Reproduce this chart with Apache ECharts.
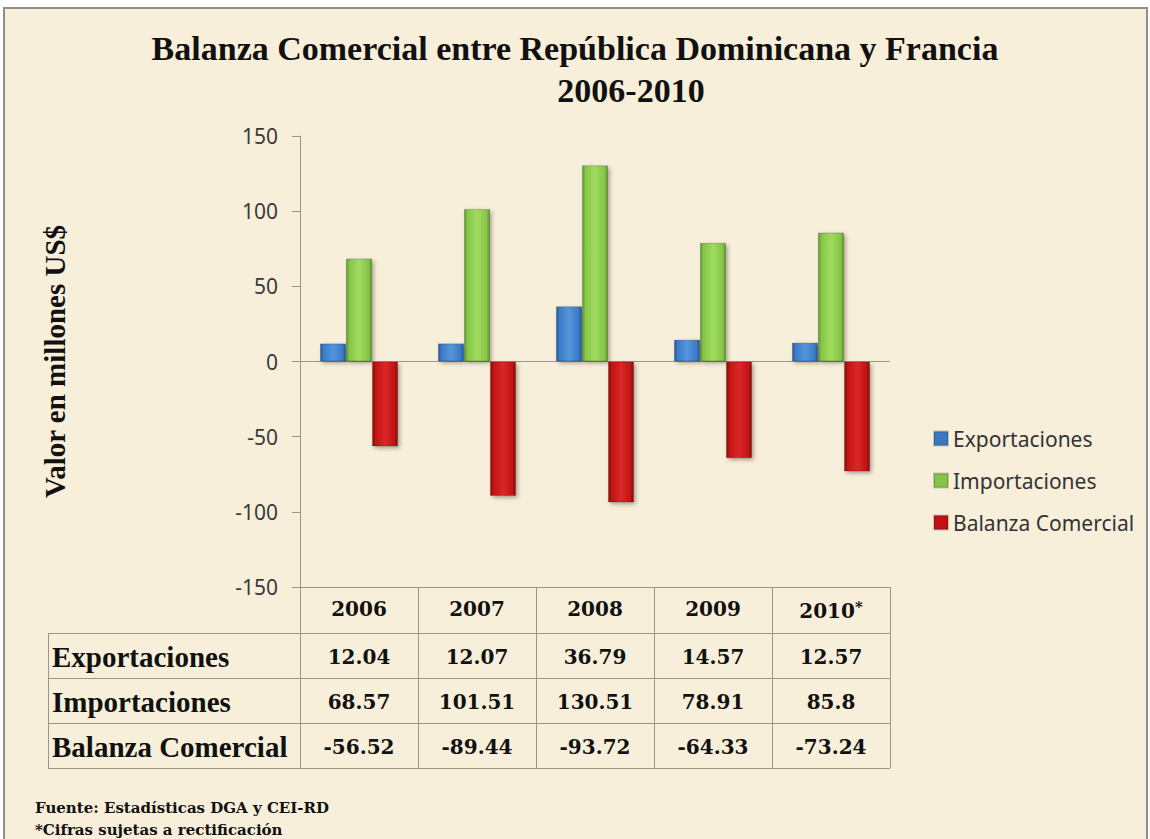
<!DOCTYPE html>
<html>
<head>
<meta charset="utf-8">
<script src="https://cdn.jsdelivr.net/npm/echarts@6/dist/echarts.min.js"></script>
<style>
  html, body { margin: 0; padding: 0; background: #fff; }
  #main { width: 1150px; height: 839px; }
</style>
</head>
<body>
<div id="main"></div>
<script>
// data
const years = ['2006', '2007', '2008', '2009', '2010*'];
const exportaciones = [12.04, 12.07, 36.79, 14.57, 12.57];
const importaciones = [68.57, 101.51, 130.51, 78.91, 85.8];
const balanza = [-56.52, -89.44, -93.72, -64.33, -73.24];
const seriesNames = ['Exportaciones', 'Importaciones', 'Balanza Comercial'];
const yMin = -150, yMax = 150, yStep = 50;

const serif = '"Liberation Serif", "DejaVu Serif", serif';
const numFont = '"DejaVu Serif", serif';
const sans = '"Noto Sans", "Open Sans", sans-serif';
const paper = '#f8efda';
const lineColor = '#9a968c';

// shaded bar fill to look like the bevelled office bars
const bevel = (dark, mid, light) => ({
  type: 'linear', x: 0, y: 0, x2: 1, y2: 0,
  colorStops: [
    { offset: 0, color: dark },
    { offset: 0.12, color: mid },
    { offset: 0.5, color: light },
    { offset: 0.88, color: mid },
    { offset: 1, color: dark }
  ]
});
const colors = [
  bevel('#24559a', '#3b7bc8', '#5595dc'),
  bevel('#5d9a2b', '#86c647', '#9fdb5f'),
  bevel('#8a0a0a', '#c21313', '#da2727')
];
const legendColors = ['#3a78c4', '#84c44a', '#c01212'];

const chart = echarts.init(document.getElementById('main'), null, { renderer: 'svg' });

const barSeries = (name, data, i) => ({
  name: name,
  type: 'bar',
  data: data,
  barWidth: 26,
  barGap: '0%',
  itemStyle: {
    color: colors[i],
    borderColor: 'rgba(0,0,0,0.18)',
    borderWidth: 1,
    shadowColor: 'rgba(0,0,0,0.35)',
    shadowBlur: 4,
    shadowOffsetX: 2,
    shadowOffsetY: 2
  }
});

const series = [
  barSeries(seriesNames[0], exportaciones, 0),
  barSeries(seriesNames[1], importaciones, 1),
  barSeries(seriesNames[2], balanza, 2)
];
// zero line across the plot
series[0].markLine = {
  silent: true,
  symbol: 'none',
  label: { show: false },
  lineStyle: { color: lineColor, width: 1, type: 'solid' },
  data: [{ yAxis: 0 }],
  z: 1
};

chart.setOption({
  backgroundColor: '#fff',
  animation: false,
  title: [
    {
      text: 'Balanza Comercial entre República Dominicana y Francia',
      left: 'center', top: 26,
      textStyle: { fontFamily: serif, fontWeight: 'bold', fontSize: 34, color: '#111' }
    },
    {
      text: '2006-2010',
      left: 626, textAlign: 'center', top: 68,
      textStyle: { fontFamily: serif, fontWeight: 'bold', fontSize: 34, color: '#111' }
    }
  ],
  legend: {
    orient: 'vertical',
    left: 928, top: 423,
    itemWidth: 14, itemHeight: 14, itemGap: 21,
    icon: 'rect',
    textStyle: { fontFamily: sans, fontSize: 21, color: '#333' },
    data: seriesNames.map((n, i) => ({ name: n, itemStyle: { color: legendColors[i] } }))
  },
  grid: { left: 300, right: 260, top: 136, bottom: 252, containLabel: false },
  xAxis: {
    type: 'category',
    data: years,
    position: 'bottom',
    axisLine: { onZero: false, lineStyle: { color: lineColor } },
    axisTick: { show: true, interval: 0, length: 181, lineStyle: { color: lineColor } },
    axisLabel: {
      interval: 0,
      margin: 12,
      fontFamily: numFont, fontWeight: 'bold', fontSize: 20, color: '#111',
      formatter: v => v.endsWith('*') ? v.slice(0, -1) + '{sup|*}' : v,
      rich: { sup: { fontFamily: numFont, fontSize: 15, fontWeight: 'bold', padding: [0, 0, 8, 0] } }
    }
  },
  yAxis: {
    type: 'value',
    min: yMin, max: yMax, interval: yStep,
    splitLine: { show: false },
    axisLine: { show: true, lineStyle: { color: lineColor } },
    axisTick: { show: true, length: 8, lineStyle: { color: lineColor } },
    axisLabel: { margin: 22, fontFamily: sans, fontSize: 21, color: '#3a3a3a' },
    name: 'Valor en millones US$',
    nameLocation: 'middle',
    nameRotate: 90,
    nameGap: 231,
    nameTextStyle: { fontFamily: serif, fontWeight: 'bold', fontSize: 29, color: '#111' }
  },
  series: series
});

// data table under the plot, lined up with the category axis
const tableRows = [
  [seriesNames[0], exportaciones],
  [seriesNames[1], importaciones],
  [seriesNames[2], balanza]
];
const axisY = chart.convertToPixel({ yAxisIndex: 0 }, yMin);
const rightX = chart.convertToPixel({ xAxisIndex: 0 }, years.length - 1) +
  (chart.convertToPixel({ xAxisIndex: 0 }, 1) - chart.convertToPixel({ xAxisIndex: 0 }, 0)) / 2;
const headH = 46, rowH = 45, tableLeft = 48;
const elements = [];

// paper with frame
elements.push({
  type: 'rect', z: -10, silent: true,
  shape: { x: 4, y: 8, width: 1143, height: 840 },
  style: { fill: paper, stroke: '#8e8e8e', lineWidth: 2 }
});

for (let r = 0; r <= tableRows.length; r++) {
  const y = Math.round(axisY + headH + r * rowH) + 0.5;
  elements.push({
    type: 'line', silent: true,
    shape: { x1: tableLeft, y1: y, x2: rightX, y2: y },
    style: { stroke: lineColor, lineWidth: 1 }
  });
}
elements.push({
  type: 'line', silent: true,
  shape: { x1: tableLeft + 0.5, y1: axisY + headH, x2: tableLeft + 0.5, y2: axisY + headH + tableRows.length * rowH },
  style: { stroke: lineColor, lineWidth: 1 }
});

tableRows.forEach((row, r) => {
  const cy = axisY + headH + r * rowH + rowH / 2;
  elements.push({
    type: 'text', silent: true,
    style: {
      text: row[0], x: tableLeft + 4, y: cy + 1,
      align: 'left', verticalAlign: 'middle',
      fontFamily: serif, fontWeight: 'bold', fontSize: 29, fill: '#111'
    }
  });
  row[1].forEach((v, i) => {
    elements.push({
      type: 'text', silent: true,
      style: {
        text: String(v), x: chart.convertToPixel({ xAxisIndex: 0 }, i), y: cy + 1,
        align: 'center', verticalAlign: 'middle',
        fontFamily: numFont, fontWeight: 'bold', fontSize: 20, fill: '#111'
      }
    });
  });
});

const footStyle = {
  align: 'left', verticalAlign: 'middle',
  fontFamily: '"DejaVu Serif", serif', fontWeight: 'bold', fontSize: 15, fill: '#111'
};
elements.push({
  type: 'text', silent: true,
  style: Object.assign({ text: 'Fuente: Estadísticas DGA y CEI-RD', x: 35, y: 808 }, footStyle)
});
elements.push({
  type: 'text', silent: true,
  style: Object.assign({ text: '*Cifras sujetas a rectificación', x: 35, y: 830 }, footStyle)
});

chart.setOption({ graphic: { elements: elements } });
</script>
</body>
</html>
